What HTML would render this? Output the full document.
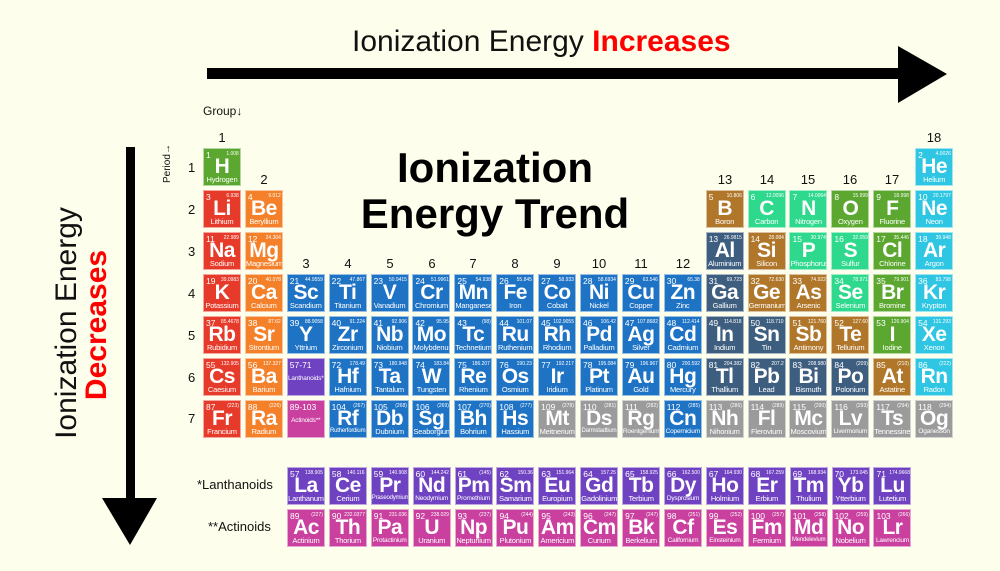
<!DOCTYPE html>
<html><head><meta charset="utf-8"><style>
*{margin:0;padding:0;box-sizing:border-box}
body{width:1000px;height:571px;background:#fefeec;position:relative;overflow:hidden;font-family:"Liberation Sans",sans-serif;color:#111}
.ab{position:absolute;white-space:nowrap}
.grid{position:absolute;display:grid;grid-template-columns:repeat(18,38px);grid-auto-rows:38px;column-gap:3.9px;row-gap:3.95px}
.c{position:relative;color:#fff;border:1px solid rgba(255,255,255,.55);overflow:hidden}
.c i{position:absolute;left:2px;top:1px;font-style:normal;font-size:8.5px;line-height:10px}
.c u{position:absolute;right:1px;top:1px;text-decoration:none;font-size:5.5px;line-height:9px;transform:scaleX(.9);transform-origin:right top}
.c b{position:absolute;left:0;right:0;top:7px;text-align:center;font-size:21px;line-height:21px;font-weight:bold;letter-spacing:-.5px}
.c s{position:absolute;left:0;right:0;bottom:1px;text-align:center;text-decoration:none;font-size:7.5px;line-height:9px;letter-spacing:-.2px}
.h,.g{background:#5ba72f}.a{background:#e63a2a}.e{background:#f4812a}.t{background:#1e73c5}.p{background:#3e5e80}.m{background:#b0772a}.n{background:#2ed98d}.ng{background:#2ec6e2}.x{background:#9b9b9b}.l{background:#6f42c1}.ac{background:#c9409f}
.gl{position:absolute;font-size:13px;width:38px;text-align:center}
.pl{position:absolute;left:188px;font-size:13px}
</style></head><body>
<div class="ab" style="left:352px;top:24px;font-size:30px;line-height:36px">Ionization Energy <span style="color:#f00;font-weight:bold">Increases</span></div>
<div class="ab" style="left:207px;top:68px;width:695px;height:11px;background:#000"></div>
<svg class="ab" style="left:895px;top:46px" width="55" height="58"><polygon points="3,0 52,28 3,57" fill="#000"/></svg>
<div class="ab" style="left:126px;top:147px;width:9px;height:356px;background:#000"></div>
<svg class="ab" style="left:102px;top:498px" width="56" height="48"><polygon points="0,0 55,0 28,47" fill="#000"/></svg>
<div class="ab" style="left:67px;top:323px;transform:translate(-50%,-50%) rotate(-90deg);font-size:30px;line-height:32px">Ionization Energy</div>
<div class="ab" style="left:97px;top:325px;transform:translate(-50%,-50%) rotate(-90deg);font-size:30px;line-height:32px;color:#f00;font-weight:bold">Decreases</div>
<div class="ab" style="left:330px;top:145px;width:330px;text-align:center;font-size:42px;line-height:46px;font-weight:bold;color:#000">Ionization<br>Energy Trend</div>
<div class="ab" style="left:203px;top:104px;font-size:12px">Group↓</div>
<div class="ab" style="left:162px;font-size:10px;transform:rotate(-90deg);transform-origin:left top;top:183px">Period→</div>
<div class="gl" style="left:203px;top:130px">1</div><div class="gl" style="left:245px;top:172px">2</div>
<div class="gl" style="left:287px;top:256px">3</div><div class="gl" style="left:329px;top:256px">4</div><div class="gl" style="left:371px;top:256px">5</div><div class="gl" style="left:413px;top:256px">6</div><div class="gl" style="left:454px;top:256px">7</div><div class="gl" style="left:496px;top:256px">8</div><div class="gl" style="left:538px;top:256px">9</div><div class="gl" style="left:580px;top:256px">10</div><div class="gl" style="left:622px;top:256px">11</div><div class="gl" style="left:664px;top:256px">12</div>
<div class="gl" style="left:706px;top:172px">13</div><div class="gl" style="left:748px;top:172px">14</div><div class="gl" style="left:789px;top:172px">15</div><div class="gl" style="left:831px;top:172px">16</div><div class="gl" style="left:873px;top:172px">17</div><div class="gl" style="left:915px;top:130px">18</div>
<div class="pl" style="top:160px">1</div><div class="pl" style="top:202px">2</div><div class="pl" style="top:244px">3</div><div class="pl" style="top:286px">4</div><div class="pl" style="top:328px">5</div><div class="pl" style="top:370px">6</div><div class="pl" style="top:411px">7</div>
<div class="ab" style="left:197px;top:477px;font-size:13px">*Lanthanoids</div>
<div class="ab" style="left:208px;top:519px;font-size:13px">**Actinoids</div>

<div class="grid" style="left:203px;top:148px">
<div class="c h" style="grid-area:1/1"><i>1</i><u>1.008</u><b>H</b><s>Hydrogen</s></div>
<div class="c ng" style="grid-area:1/18"><i>2</i><u>4.0026</u><b>He</b><s>Helium</s></div>
<div class="c a" style="grid-area:2/1"><i>3</i><u>6.938</u><b>Li</b><s>Lithium</s></div>
<div class="c e" style="grid-area:2/2"><i>4</i><u>9.012</u><b>Be</b><s>Beryllium</s></div>
<div class="c m" style="grid-area:2/13"><i>5</i><u>10.806</u><b>B</b><s>Boron</s></div>
<div class="c n" style="grid-area:2/14"><i>6</i><u>12.0096</u><b>C</b><s>Carbon</s></div>
<div class="c n" style="grid-area:2/15"><i>7</i><u>14.0064</u><b>N</b><s>Nitrogen</s></div>
<div class="c g" style="grid-area:2/16"><i>8</i><u>15.999</u><b>O</b><s>Oxygen</s></div>
<div class="c g" style="grid-area:2/17"><i>9</i><u>18.998</u><b>F</b><s>Fluorine</s></div>
<div class="c ng" style="grid-area:2/18"><i>10</i><u>20.1797</u><b>Ne</b><s>Neon</s></div>
<div class="c a" style="grid-area:3/1"><i>11</i><u>22.989</u><b>Na</b><s>Sodium</s></div>
<div class="c e" style="grid-area:3/2"><i>12</i><u>24.304</u><b>Mg</b><s>Magnesium</s></div>
<div class="c p" style="grid-area:3/13"><i>13</i><u>26.9815</u><b>Al</b><s>Aluminium</s></div>
<div class="c m" style="grid-area:3/14"><i>14</i><u>28.084</u><b>Si</b><s>Silicon</s></div>
<div class="c n" style="grid-area:3/15"><i>15</i><u>30.974</u><b>P</b><s>Phosphorus</s></div>
<div class="c n" style="grid-area:3/16"><i>16</i><u>32.059</u><b>S</b><s>Sulfur</s></div>
<div class="c g" style="grid-area:3/17"><i>17</i><u>35.446</u><b>Cl</b><s>Chlorine</s></div>
<div class="c ng" style="grid-area:3/18"><i>18</i><u>39.948</u><b>Ar</b><s>Argon</s></div>
<div class="c a" style="grid-area:4/1"><i>19</i><u>39.0983</u><b>K</b><s>Potassium</s></div>
<div class="c e" style="grid-area:4/2"><i>20</i><u>40.078</u><b>Ca</b><s>Calcium</s></div>
<div class="c t" style="grid-area:4/3"><i>21</i><u>44.9559</u><b>Sc</b><s>Scandium</s></div>
<div class="c t" style="grid-area:4/4"><i>22</i><u>47.867</u><b>Ti</b><s>Titanium</s></div>
<div class="c t" style="grid-area:4/5"><i>23</i><u>50.9415</u><b>V</b><s>Vanadium</s></div>
<div class="c t" style="grid-area:4/6"><i>24</i><u>51.9961</u><b>Cr</b><s>Chromium</s></div>
<div class="c t" style="grid-area:4/7"><i>25</i><u>54.938</u><b>Mn</b><s>Manganese</s></div>
<div class="c t" style="grid-area:4/8"><i>26</i><u>55.845</u><b>Fe</b><s>Iron</s></div>
<div class="c t" style="grid-area:4/9"><i>27</i><u>58.933</u><b>Co</b><s>Cobalt</s></div>
<div class="c t" style="grid-area:4/10"><i>28</i><u>58.6934</u><b>Ni</b><s>Nickel</s></div>
<div class="c t" style="grid-area:4/11"><i>29</i><u>63.546</u><b>Cu</b><s>Copper</s></div>
<div class="c t" style="grid-area:4/12"><i>30</i><u>65.38</u><b>Zn</b><s>Zinc</s></div>
<div class="c p" style="grid-area:4/13"><i>31</i><u>69.723</u><b>Ga</b><s>Gallium</s></div>
<div class="c m" style="grid-area:4/14"><i>32</i><u>72.630</u><b>Ge</b><s>Germanium</s></div>
<div class="c m" style="grid-area:4/15"><i>33</i><u>74.922</u><b>As</b><s>Arsenic</s></div>
<div class="c n" style="grid-area:4/16"><i>34</i><u>78.971</u><b>Se</b><s>Selenium</s></div>
<div class="c g" style="grid-area:4/17"><i>35</i><u>79.901</u><b>Br</b><s>Bromine</s></div>
<div class="c ng" style="grid-area:4/18"><i>36</i><u>83.798</u><b>Kr</b><s>Krypton</s></div>
<div class="c a" style="grid-area:5/1"><i>37</i><u>85.4678</u><b>Rb</b><s>Rubidium</s></div>
<div class="c e" style="grid-area:5/2"><i>38</i><u>87.62</u><b>Sr</b><s>Strontium</s></div>
<div class="c t" style="grid-area:5/3"><i>39</i><u>88.9058</u><b>Y</b><s>Yttrium</s></div>
<div class="c t" style="grid-area:5/4"><i>40</i><u>91.224</u><b>Zr</b><s>Zirconium</s></div>
<div class="c t" style="grid-area:5/5"><i>41</i><u>92.906</u><b>Nb</b><s>Niobium</s></div>
<div class="c t" style="grid-area:5/6"><i>42</i><u>95.95</u><b>Mo</b><s>Molybdenum</s></div>
<div class="c t" style="grid-area:5/7"><i>43</i><u>(98)</u><b>Tc</b><s>Technetium</s></div>
<div class="c t" style="grid-area:5/8"><i>44</i><u>101.07</u><b>Ru</b><s>Ruthenium</s></div>
<div class="c t" style="grid-area:5/9"><i>45</i><u>102.9055</u><b>Rh</b><s>Rhodium</s></div>
<div class="c t" style="grid-area:5/10"><i>46</i><u>106.42</u><b>Pd</b><s>Palladium</s></div>
<div class="c t" style="grid-area:5/11"><i>47</i><u>107.8682</u><b>Ag</b><s>Silver</s></div>
<div class="c t" style="grid-area:5/12"><i>48</i><u>112.414</u><b>Cd</b><s>Cadmium</s></div>
<div class="c p" style="grid-area:5/13"><i>49</i><u>114.818</u><b>In</b><s>Indium</s></div>
<div class="c p" style="grid-area:5/14"><i>50</i><u>118.710</u><b>Sn</b><s>Tin</s></div>
<div class="c m" style="grid-area:5/15"><i>51</i><u>121.760</u><b>Sb</b><s>Antimony</s></div>
<div class="c m" style="grid-area:5/16"><i>52</i><u>127.60</u><b>Te</b><s>Tellurium</s></div>
<div class="c g" style="grid-area:5/17"><i>53</i><u>126.904</u><b>I</b><s>Iodine</s></div>
<div class="c ng" style="grid-area:5/18"><i>54</i><u>131.293</u><b>Xe</b><s>Xenon</s></div>
<div class="c a" style="grid-area:6/1"><i>55</i><u>132.905</u><b>Cs</b><s>Caesium</s></div>
<div class="c e" style="grid-area:6/2"><i>56</i><u>137.327</u><b>Ba</b><s>Barium</s></div>
<div class="c l" style="grid-area:6/3"><i>57-71</i><s style="bottom:12px;font-size:6.5px">Lanthanoids*</s></div>
<div class="c t" style="grid-area:6/4"><i>72</i><u>178.49</u><b>Hf</b><s>Hafnium</s></div>
<div class="c t" style="grid-area:6/5"><i>73</i><u>180.948</u><b>Ta</b><s>Tantalum</s></div>
<div class="c t" style="grid-area:6/6"><i>74</i><u>183.84</u><b>W</b><s>Tungsten</s></div>
<div class="c t" style="grid-area:6/7"><i>75</i><u>186.207</u><b>Re</b><s>Rhenium</s></div>
<div class="c t" style="grid-area:6/8"><i>76</i><u>190.23</u><b>Os</b><s>Osmium</s></div>
<div class="c t" style="grid-area:6/9"><i>77</i><u>192.217</u><b>Ir</b><s>Iridium</s></div>
<div class="c t" style="grid-area:6/10"><i>78</i><u>195.084</u><b>Pt</b><s>Platinum</s></div>
<div class="c t" style="grid-area:6/11"><i>79</i><u>196.967</u><b>Au</b><s>Gold</s></div>
<div class="c t" style="grid-area:6/12"><i>80</i><u>200.592</u><b>Hg</b><s>Mercury</s></div>
<div class="c p" style="grid-area:6/13"><i>81</i><u>204.382</u><b>Tl</b><s>Thallium</s></div>
<div class="c p" style="grid-area:6/14"><i>82</i><u>207.2</u><b>Pb</b><s>Lead</s></div>
<div class="c p" style="grid-area:6/15"><i>83</i><u>208.980</u><b>Bi</b><s>Bismuth</s></div>
<div class="c p" style="grid-area:6/16"><i>84</i><u>(209)</u><b>Po</b><s>Polonium</s></div>
<div class="c m" style="grid-area:6/17"><i>85</i><u>(210)</u><b>At</b><s>Astatine</s></div>
<div class="c ng" style="grid-area:6/18"><i>86</i><u>(222)</u><b>Rn</b><s>Radon</s></div>
<div class="c a" style="grid-area:7/1"><i>87</i><u>(223)</u><b>Fr</b><s>Francium</s></div>
<div class="c e" style="grid-area:7/2"><i>88</i><u>(226)</u><b>Ra</b><s>Radium</s></div>
<div class="c ac" style="grid-area:7/3"><i>89-103</i><s style="bottom:12px;font-size:6.5px">Actinoids**</s></div>
<div class="c t" style="grid-area:7/4"><i>104</i><u>(267)</u><b>Rf</b><s style="font-size:6px">Rutherfordium</s></div>
<div class="c t" style="grid-area:7/5"><i>105</i><u>(268)</u><b>Db</b><s>Dubnium</s></div>
<div class="c t" style="grid-area:7/6"><i>106</i><u>(269)</u><b>Sg</b><s>Seaborgium</s></div>
<div class="c t" style="grid-area:7/7"><i>107</i><u>(270)</u><b>Bh</b><s>Bohrium</s></div>
<div class="c t" style="grid-area:7/8"><i>108</i><u>(277)</u><b>Hs</b><s>Hassium</s></div>
<div class="c x" style="grid-area:7/9"><i>109</i><u>(278)</u><b>Mt</b><s>Meitnerium</s></div>
<div class="c x" style="grid-area:7/10"><i>110</i><u>(281)</u><b>Ds</b><s style="font-size:6px">Darmstadtium</s></div>
<div class="c x" style="grid-area:7/11"><i>111</i><u>(282)</u><b>Rg</b><s style="font-size:6.5px">Roentgenium</s></div>
<div class="c t" style="grid-area:7/12"><i>112</i><u>(285)</u><b>Cn</b><s style="font-size:6.5px">Copernicium</s></div>
<div class="c x" style="grid-area:7/13"><i>113</i><u>(286)</u><b>Nh</b><s>Nihonium</s></div>
<div class="c x" style="grid-area:7/14"><i>114</i><u>(289)</u><b>Fl</b><s>Flerovium</s></div>
<div class="c x" style="grid-area:7/15"><i>115</i><u>(290)</u><b>Mc</b><s>Moscovium</s></div>
<div class="c x" style="grid-area:7/16"><i>116</i><u>(293)</u><b>Lv</b><s style="font-size:6.5px">Livermorium</s></div>
<div class="c x" style="grid-area:7/17"><i>117</i><u>(294)</u><b>Ts</b><s>Tennessine</s></div>
<div class="c x" style="grid-area:7/18"><i>118</i><u>(294)</u><b>Og</b><s style="font-size:6.5px">Oganesson</s></div>
</div>

<div class="grid" style="left:287px;top:467px;grid-template-columns:repeat(15,38px);row-gap:4px">
<div class="c l"><i>57</i><u>138.905</u><b>La</b><s>Lanthanum</s></div>
<div class="c l"><i>58</i><u>140.116</u><b>Ce</b><s>Cerium</s></div>
<div class="c l"><i>59</i><u>140.908</u><b>Pr</b><s style="font-size:6px">Praseodymium</s></div>
<div class="c l"><i>60</i><u>144.242</u><b>Nd</b><s style="font-size:6.5px">Neodymium</s></div>
<div class="c l"><i>61</i><u>(145)</u><b>Pm</b><s style="font-size:6.5px">Promethium</s></div>
<div class="c l"><i>62</i><u>150.36</u><b>Sm</b><s>Samarium</s></div>
<div class="c l"><i>63</i><u>151.964</u><b>Eu</b><s>Europium</s></div>
<div class="c l"><i>64</i><u>157.25</u><b>Gd</b><s>Gadolinium</s></div>
<div class="c l"><i>65</i><u>158.925</u><b>Tb</b><s>Terbium</s></div>
<div class="c l"><i>66</i><u>162.500</u><b>Dy</b><s style="font-size:6.5px">Dysprosium</s></div>
<div class="c l"><i>67</i><u>164.930</u><b>Ho</b><s>Holmium</s></div>
<div class="c l"><i>68</i><u>167.259</u><b>Er</b><s>Erbium</s></div>
<div class="c l"><i>69</i><u>168.934</u><b>Tm</b><s>Thulium</s></div>
<div class="c l"><i>70</i><u>173.045</u><b>Yb</b><s>Ytterbium</s></div>
<div class="c l"><i>71</i><u>174.9668</u><b>Lu</b><s>Lutetium</s></div>
<div class="c ac"><i>89</i><u>(227)</u><b>Ac</b><s>Actinium</s></div>
<div class="c ac"><i>90</i><u>232.0377</u><b>Th</b><s>Thorium</s></div>
<div class="c ac"><i>91</i><u>231.036</u><b>Pa</b><s style="font-size:6.5px">Protactinium</s></div>
<div class="c ac"><i>92</i><u>238.029</u><b>U</b><s>Uranium</s></div>
<div class="c ac"><i>93</i><u>(237)</u><b>Np</b><s>Neptunium</s></div>
<div class="c ac"><i>94</i><u>(244)</u><b>Pu</b><s>Plutonium</s></div>
<div class="c ac"><i>95</i><u>(243)</u><b>Am</b><s>Americium</s></div>
<div class="c ac"><i>96</i><u>(247)</u><b>Cm</b><s>Curium</s></div>
<div class="c ac"><i>97</i><u>(247)</u><b>Bk</b><s>Berkelium</s></div>
<div class="c ac"><i>98</i><u>(251)</u><b>Cf</b><s style="font-size:6.5px">Californium</s></div>
<div class="c ac"><i>99</i><u>(252)</u><b>Es</b><s style="font-size:6.5px">Einsteinium</s></div>
<div class="c ac"><i>100</i><u>(257)</u><b>Fm</b><s>Fermium</s></div>
<div class="c ac"><i>101</i><u>(258)</u><b>Md</b><s style="font-size:6px">Mendelevium</s></div>
<div class="c ac"><i>102</i><u>(259)</u><b>No</b><s>Nobelium</s></div>
<div class="c ac"><i>103</i><u>(266)</u><b>Lr</b><s style="font-size:6.5px">Lawrencium</s></div>
</div>
</body></html>
